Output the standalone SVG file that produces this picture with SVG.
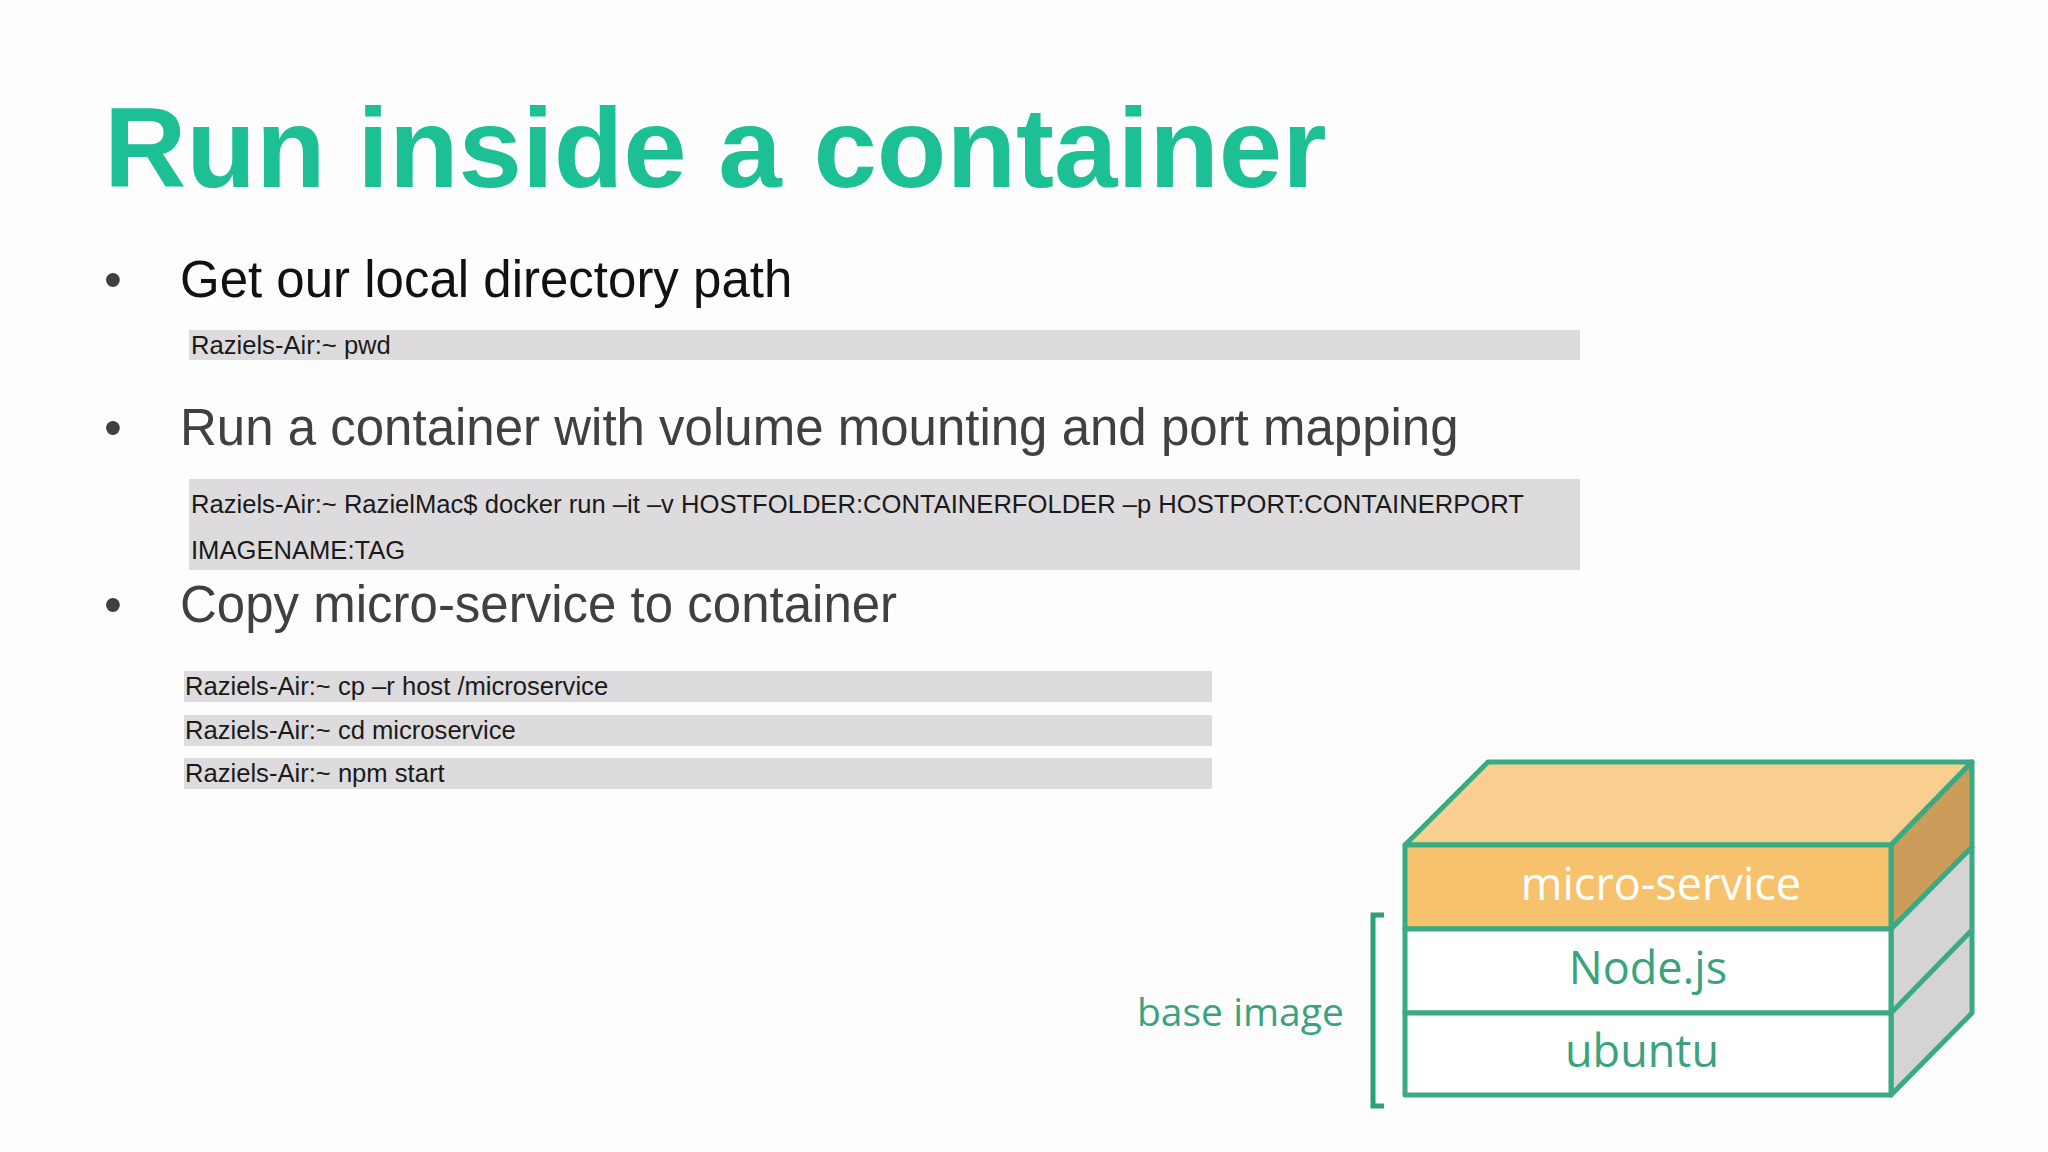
<svg xmlns="http://www.w3.org/2000/svg" width="2048" height="1152" viewBox="0 0 2048 1152">
<style>
.b{font-family:"Liberation Sans",Arial,sans-serif;font-size:51px;fill:#404040}
.c{font-family:"Liberation Sans",Arial,sans-serif;font-size:25.6px;fill:#1a1a1a}
.bar{fill:#dddbdd}
.g{font-family:"Open Sans","Noto Sans",sans-serif;font-size:45px;fill:#3aa37d;text-anchor:middle}
.cube{stroke:#3aaa82;stroke-width:5;stroke-linejoin:round}
</style>
<rect width="2048" height="1152" fill="#fdfdfd"/>
<text x="104" y="187" font-family="Liberation Sans,Arial,sans-serif" font-weight="bold" font-size="114" fill="#1dbf94">Run inside a container</text>
<g id="bullet1">
<text x="104" y="297" class="b" fill="#000">•</text>
<text x="180" y="297" class="b" style="fill:#111">Get our local directory path</text>
<rect class="bar" x="189" y="330" width="1391" height="30"/>
<text x="191" y="354" class="c">Raziels-Air:~ pwd</text>
</g>
<g id="bullet2">
<text x="104" y="445" class="b">•</text>
<text x="180" y="445" class="b">Run a container with volume mounting and port mapping</text>
<rect class="bar" x="189" y="479" width="1391" height="91"/>
<text x="191" y="513" class="c">Raziels-Air:~ RazielMac$ docker run –it –v HOSTFOLDER:CONTAINERFOLDER –p HOSTPORT:CONTAINERPORT</text>
<text x="191" y="559" class="c">IMAGENAME:TAG</text>
</g>
<g id="bullet3">
<text x="104" y="622" class="b">•</text>
<text x="180" y="622" class="b">Copy micro-service to container</text>
<rect class="bar" x="184" y="671" width="1028" height="31"/>
<rect class="bar" x="184" y="715" width="1028" height="31"/>
<rect class="bar" x="184" y="758" width="1028" height="31"/>
<text x="185" y="695" class="c">Raziels-Air:~ cp –r host /microservice</text>
<text x="185" y="739" class="c">Raziels-Air:~ cd microservice</text>
<text x="185" y="782" class="c">Raziels-Air:~ npm start</text>
</g>
<g id="cube">
<polygon class="cube" points="1405,845 1488,762 1972,762 1891,845" fill="#f8cf8e"/>
<polygon class="cube" points="1891,845 1972,762 1972,847 1891,929" fill="#cc9c5a"/>
<polygon class="cube" points="1891,929 1972,847 1972,1013 1891,1095" fill="#d4d4d4"/>
<line class="cube" x1="1891" y1="1013" x2="1972" y2="930"/>
<rect class="cube" x="1405" y="845" width="486" height="84" fill="#f7c26e"/>
<rect class="cube" x="1405" y="929" width="486" height="84" fill="#fff"/>
<rect class="cube" x="1405" y="1013" width="486" height="82" fill="#fff"/>
<text x="1661" y="900" class="g" style="fill:#fff">micro-service</text>
<text x="1648" y="984" class="g">Node.js</text>
<text x="1642" y="1067" class="g">ubuntu</text>
</g>
<g id="base">
<text x="1137" y="1026" class="g" style="font-size:39px;text-anchor:start">base image</text>
<path d="M1384,915 H1373 V1106 H1384" fill="none" stroke="#2aa075" stroke-width="5"/>
</g>
</svg>
